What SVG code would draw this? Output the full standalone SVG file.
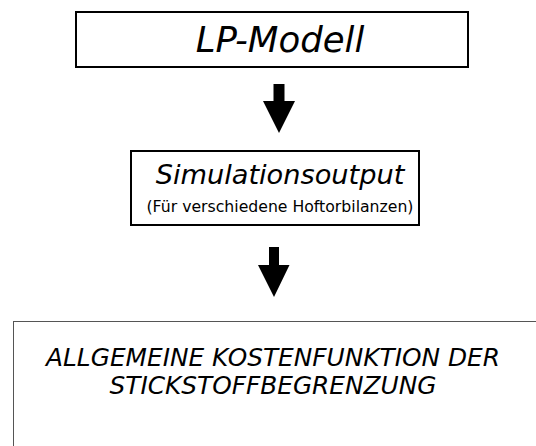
<svg xmlns="http://www.w3.org/2000/svg" width="536" height="446" viewBox="0 0 536 446">
<style>
.box{fill:#fff;stroke:#000;stroke-width:2}
.box3{fill:#fff;stroke:#555;stroke-width:1}
.t{font-family:"DejaVu Sans",Verdana,sans-serif;fill:#000;text-anchor:middle}
.it{font-style:italic}
.arr{fill:#000}
</style>
<rect width="536" height="446" fill="#fff"/>
<g id="node-lp">
<rect class="box" x="76" y="12" width="392" height="55"/>
<text class="t it" x="280" y="52" font-size="35.5">LP-Modell</text>
</g>
<g id="node-sim">
<rect class="box" x="131" y="151" width="288" height="74"/>
<text class="t it" x="280" y="184" font-size="27.2">Simulationsoutput</text>
<text class="t" x="280" y="212" font-size="15.7">(Für verschiedene Hoftorbilanzen)</text>
</g>
<g id="node-kosten">
<rect class="box3" x="13.5" y="321.5" width="600" height="200"/>
<text class="t it" x="273" y="366" font-size="24.8">ALLGEMEINE KOSTENFUNKTION DER</text>
<text class="t it" x="273" y="394" font-size="24.8">STICKSTOFFBEGRENZUNG</text>
</g>
<g id="connectors">
<polygon class="arr" points="273.5,84 284.5,84 284.5,101 295,101 279,133 263,101 273.5,101"/>
<polygon class="arr" points="269,247 279,247 279,265 289.5,265 274,297 258,265 269,265"/>
</g>
</svg>
